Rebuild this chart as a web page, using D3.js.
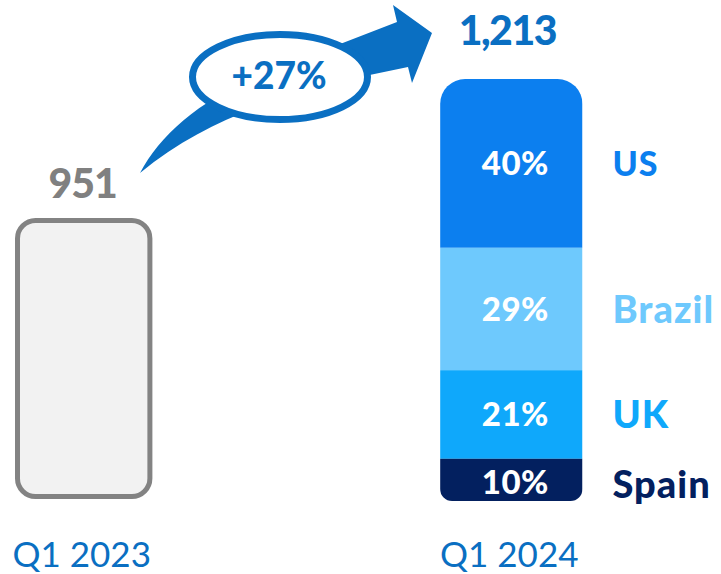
<!DOCTYPE html>
<html>
<head>
<meta charset="utf-8">
<script src="https://cdn.jsdelivr.net/npm/d3@7"></script>
<style>
  body { margin: 0; background: #fff; }
  text { font-family: Lato, "Open Sans", sans-serif; }
</style>
</head>
<body>
<div class="chart"></div>
<script>
// Chart data
var quarters = ["Q1 2023", "Q1 2024"];
var totals = [951, 1213];
var totalLabels = ["951", "1,213"];
var regions = ["US", "Brazil", "UK", "Spain"];
var shares = [40, 29, 21, 10];
var growthLabel = "+27%";

// Colours
var regionColors = ["#0c7fef", "#6ec9fd", "#0fa8fb", "#03205f"];
var darkBlue = "#0a6fc2";

var svg_width = 721;
var svg_height = 574;

var svg = d3.select(".chart").append("svg")
  .attr("width", svg_width)
  .attr("height", svg_height);

// Scales
var x = d3.scaleBand()
  .domain(quarters)
  .range([12.5, 582.5])
  .paddingInner(0.667);

// the picture's bars start from a cut baseline, not zero
var yFloor = 418;
var y = d3.scaleLinear()
  .domain([yFloor, d3.max(totals)])
  .range([501, 79]);

// path for a rect with separate top and bottom corner radii
function roundRect(x0, y0, w, h, rt, rb) {
  var p = d3.path();
  p.moveTo(x0 + rt, y0);
  p.lineTo(x0 + w - rt, y0);
  p.arcTo(x0 + w, y0, x0 + w, y0 + rt, rt);
  p.lineTo(x0 + w, y0 + h - rb);
  p.arcTo(x0 + w, y0 + h, x0 + w - rb, y0 + h, rb);
  p.lineTo(x0 + rb, y0 + h);
  p.arcTo(x0, y0 + h, x0, y0 + h - rb, rb);
  p.lineTo(x0, y0 + rt);
  p.arcTo(x0, y0, x0 + rt, y0, rt);
  p.closePath();
  return p.toString();
}

// Q1 2023 bar (outlined, grey)
var q0 = quarters[0];
var sw = 5;
svg.append("rect")
  .attr("x", x(q0) + sw / 2 + 2.5)
  .attr("y", y(totals[0]) + sw / 2)
  .attr("width", x.bandwidth() - sw - 5)
  .attr("height", y(yFloor) - y(totals[0]) - sw - 2)
  .attr("rx", 18)
  .attr("fill", "#f2f2f2")
  .attr("stroke", "#838383")
  .attr("stroke-width", sw);

svg.append("text")
  .attr("x", x(q0) + x.bandwidth() / 2 - 1)
  .attr("y", y(totals[0]) - 20)
  .attr("text-anchor", "middle")
  .attr("font-size", "41px")
  .attr("font-weight", "900")
  .attr("letter-spacing", "-1px")
  .attr("fill", "#808080")
  .text(totalLabels[0]);

// Q1 2024 stacked bar
var q1 = quarters[1];
var bx = x(q1), bw = x.bandwidth();
var share = d3.scaleLinear()
  .domain([0, 100])
  .range([y(totals[1]), y(yFloor)]);

var cum = d3.cumsum(shares);
var segs = regions.map(function(r, i) {
  return { region: r, share: shares[i], start: cum[i] - shares[i], end: cum[i], color: regionColors[i] };
});

svg.append("clipPath")
  .attr("id", "barclip")
  .append("path")
  .attr("d", roundRect(bx, y(totals[1]), bw, y(yFloor) - y(totals[1]), 25, 12));

svg.append("g")
  .attr("clip-path", "url(#barclip)")
  .selectAll("rect")
  .data(segs)
  .enter()
  .append("rect")
  .attr("x", bx)
  .attr("y", function(d) { return share(d.start); })
  .attr("width", bw)
  .attr("height", function(d) { return share(d.end) - share(d.start); })
  .attr("fill", function(d) { return d.color; });

// percent labels inside
svg.selectAll("text.pct")
  .data(segs)
  .enter()
  .append("text")
  .attr("class", "pct")
  .attr("x", bx + bw / 2 + 4)
  .attr("y", function(d, i) { return (share(d.start) + share(d.end)) / 2 + (i == 3 ? 2 : 0); })
  .attr("dy", "0.36em")
  .attr("text-anchor", "middle")
  .attr("font-size", "33px")
  .attr("font-weight", "900")
  .attr("letter-spacing", "0.5px")
  .attr("fill", "#fff")
  .text(function(d) { return d.share + "%"; });

// region names at right
svg.selectAll("text.region")
  .data(segs)
  .enter()
  .append("text")
  .attr("class", "region")
  .attr("x", bx + bw + 30)
  .attr("y", function(d, i) { return (share(d.start) + share(d.end)) / 2 + (i == 3 ? 4 : 0); })
  .attr("dy", "0.36em")
  .attr("font-size", function(d) { return d.region == "US" ? "34px" : "38px"; })
  .attr("font-weight", "900")
  .attr("letter-spacing", "1px")
  .attr("fill", function(d) { return d.color; })
  .text(function(d) { return d.region; });

svg.append("text")
  .attr("x", bx + bw / 2 - 4)
  .attr("y", y(totals[1]) - 34)
  .attr("text-anchor", "middle")
  .attr("font-size", "41px")
  .attr("font-weight", "900")
  .attr("letter-spacing", "-1.5px")
  .attr("fill", darkBlue)
  .text(totalLabels[1]);

// growth arrow
svg.append("path")
  .attr("d", "M140,173 C160,135 200,100 260,75 L397,22 L393,5 L432,33 L412,83 L408,67 L360,77 C290,95 210,115 140,173 Z")
  .attr("fill", darkBlue);

svg.append("ellipse")
  .attr("cx", 280)
  .attr("cy", 77)
  .attr("rx", 87.5)
  .attr("ry", 42.5)
  .attr("fill", "#fff")
  .attr("stroke", darkBlue)
  .attr("stroke-width", 7);

svg.append("text")
  .attr("x", 279)
  .attr("y", 89)
  .attr("text-anchor", "middle")
  .attr("font-size", "37px")
  .attr("font-weight", "900")
  .attr("fill", darkBlue)
  .text(growthLabel);

// category labels
svg.selectAll("text.cat")
  .data(quarters)
  .enter()
  .append("text")
  .attr("class", "cat")
  .attr("x", function(d) { return x(d) + x.bandwidth() / 2 - 2; })
  .attr("y", 567)
  .attr("text-anchor", "middle")
  .attr("font-size", "35px")
  .attr("fill", darkBlue)
  .text(function(d) { return d; });
</script>
</body>
</html>
